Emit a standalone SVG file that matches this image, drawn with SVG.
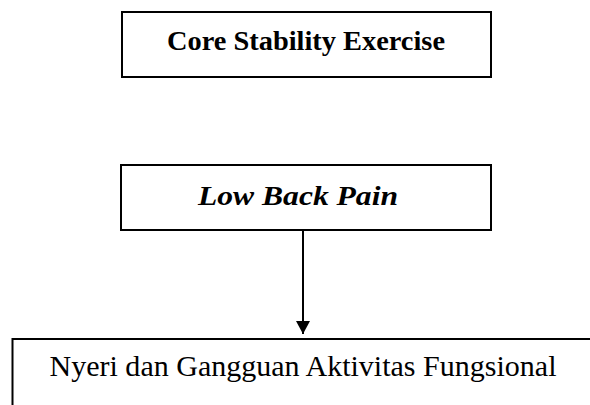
<svg xmlns="http://www.w3.org/2000/svg" width="590" height="405" viewBox="0 0 590 405">
<defs>
<style>
.box{fill:#fff;stroke:#000;stroke-width:2}
.t{font-family:"Liberation Serif",serif;font-size:28px;fill:#000;text-anchor:middle}
.b{font-weight:bold}
.i{font-style:italic}
.n{font-size:29px}
.conn{stroke:#000;stroke-width:2;fill:none}
</style>
<marker id="ah" markerWidth="14" markerHeight="14" refX="13" refY="7" orient="auto" markerUnits="userSpaceOnUse">
<path d="M0,0 L13,7 L0,14 Z" fill="#000"/>
</marker>
</defs>
<rect width="590" height="405" fill="#fff"/>
<g id="node-core">
<rect class="box" x="122" y="12" width="369" height="65"/>
<text class="t b" x="306" y="50" textLength="278" lengthAdjust="spacingAndGlyphs">Core Stability Exercise</text>
</g>
<g id="node-lbp">
<rect class="box" x="121" y="165" width="370" height="65"/>
<text class="t b i" x="298" y="205" textLength="200" lengthAdjust="spacingAndGlyphs">Low Back Pain</text>
</g>
<g id="node-nyeri">
<rect class="box" x="12.5" y="339" width="582" height="80"/>
<text class="t n" x="303" y="376" textLength="507" lengthAdjust="spacingAndGlyphs">Nyeri dan Gangguan Aktivitas Fungsional</text>
</g>
<g id="connectors">
<line class="conn" x1="303" y1="231" x2="303" y2="334" marker-end="url(#ah)"/>
</g>
</svg>
